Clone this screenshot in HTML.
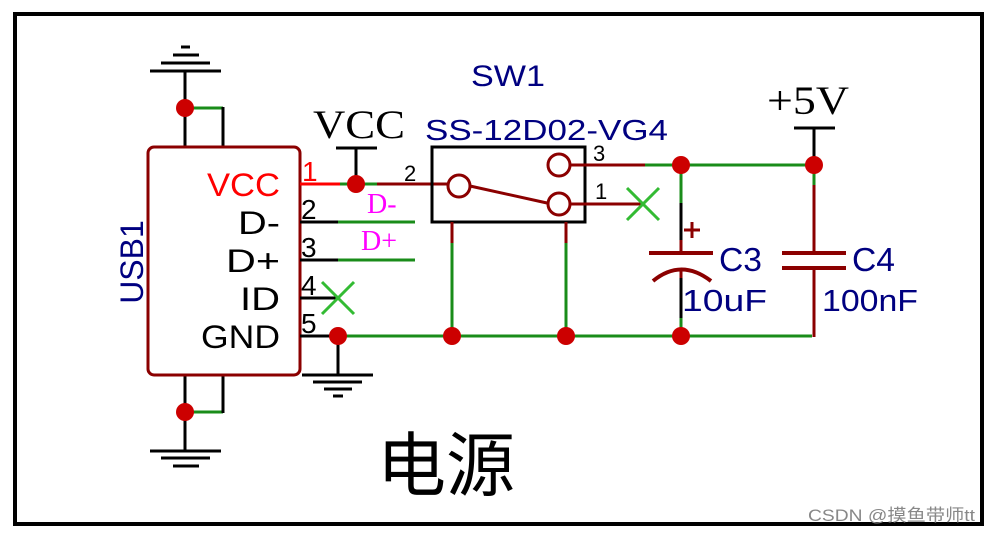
<!DOCTYPE html>
<html><head><meta charset="utf-8"><style>
html,body{margin:0;padding:0;background:#fff;}
svg{display:block}
</style></head><body>
<svg width="990" height="533" viewBox="0 0 990 533" xmlns="http://www.w3.org/2000/svg">
<rect width="990" height="533" fill="#fff"/>
<rect x="15" y="14" width="967" height="510" fill="none" stroke="#000" stroke-width="4"/>

<g stroke-linecap="butt" fill="none">
<line x1="150" y1="71" x2="221" y2="71" stroke="#000" stroke-width="3"/>
<line x1="161" y1="63" x2="210" y2="63" stroke="#000" stroke-width="3"/>
<line x1="173" y1="55" x2="199" y2="55" stroke="#000" stroke-width="3"/>
<line x1="181" y1="47" x2="190" y2="47" stroke="#000" stroke-width="3"/>
<line x1="185" y1="71" x2="185" y2="147" stroke="#000" stroke-width="3"/>
<line x1="185" y1="108" x2="223" y2="108" stroke="#1a8c1a" stroke-width="3"/>
<line x1="223" y1="107" x2="223" y2="147" stroke="#000" stroke-width="3"/>
<line x1="185" y1="375" x2="185" y2="451" stroke="#000" stroke-width="3"/>
<line x1="185" y1="412" x2="223" y2="412" stroke="#1a8c1a" stroke-width="3"/>
<line x1="223" y1="375" x2="223" y2="413" stroke="#000" stroke-width="3"/>
<line x1="150" y1="451" x2="221" y2="451" stroke="#000" stroke-width="3"/>
<line x1="161" y1="458" x2="210" y2="458" stroke="#000" stroke-width="3"/>
<line x1="173" y1="466" x2="199" y2="466" stroke="#000" stroke-width="3"/>

<rect x="148" y="147" width="152" height="228" rx="6" stroke="#8b0000" stroke-width="3"/>

<line x1="300" y1="184" x2="340" y2="184" stroke="#ff0000" stroke-width="3"/>
<line x1="340" y1="184" x2="377" y2="184" stroke="#1a8c1a" stroke-width="3"/>
<line x1="377" y1="184" x2="448" y2="184" stroke="#8b0000" stroke-width="3"/>
<line x1="356" y1="148" x2="356" y2="184" stroke="#000" stroke-width="3"/>
<line x1="336" y1="148" x2="377" y2="148" stroke="#000" stroke-width="3"/>

<line x1="300" y1="222" x2="338" y2="222" stroke="#000" stroke-width="3"/>
<line x1="338" y1="222" x2="415" y2="222" stroke="#1a8c1a" stroke-width="3"/>
<line x1="300" y1="260" x2="338" y2="260" stroke="#000" stroke-width="3"/>
<line x1="338" y1="260" x2="415" y2="260" stroke="#1a8c1a" stroke-width="3"/>
<line x1="300" y1="298" x2="338" y2="298" stroke="#000" stroke-width="3"/>
<line x1="322" y1="282" x2="354" y2="314" stroke="#33bb33" stroke-width="3"/>
<line x1="354" y1="282" x2="322" y2="314" stroke="#33bb33" stroke-width="3"/>
<line x1="300" y1="336" x2="338" y2="336" stroke="#000" stroke-width="3"/>
<line x1="338" y1="336" x2="812" y2="336" stroke="#1a8c1a" stroke-width="3"/>
<line x1="338" y1="336" x2="338" y2="375" stroke="#000" stroke-width="3"/>
<line x1="302" y1="375" x2="373" y2="375" stroke="#000" stroke-width="3"/>
<line x1="313" y1="382" x2="362" y2="382" stroke="#000" stroke-width="3"/>
<line x1="324" y1="389" x2="352" y2="389" stroke="#000" stroke-width="3"/>
<line x1="333" y1="396" x2="343" y2="396" stroke="#000" stroke-width="3"/>

<rect x="432" y="147" width="153" height="75" stroke="#000" stroke-width="3"/>
<circle cx="459" cy="186" r="11" stroke="#8b0000" stroke-width="3"/>
<circle cx="559" cy="165" r="11" stroke="#8b0000" stroke-width="3"/>
<circle cx="559" cy="204" r="11" stroke="#8b0000" stroke-width="3"/>
<line x1="470" y1="186" x2="547" y2="203" stroke="#8b0000" stroke-width="3"/>
<line x1="570" y1="165" x2="645" y2="165" stroke="#8b0000" stroke-width="3"/>
<line x1="645" y1="165" x2="814" y2="165" stroke="#1a8c1a" stroke-width="3"/>
<line x1="570" y1="204" x2="643" y2="204" stroke="#8b0000" stroke-width="3"/>
<line x1="627" y1="188" x2="659" y2="220" stroke="#33bb33" stroke-width="3"/>
<line x1="659" y1="188" x2="627" y2="220" stroke="#33bb33" stroke-width="3"/>
<line x1="452" y1="222" x2="452" y2="243" stroke="#8b0000" stroke-width="3"/>
<line x1="452" y1="243" x2="452" y2="336" stroke="#1a8c1a" stroke-width="3"/>
<line x1="566" y1="222" x2="566" y2="243" stroke="#8b0000" stroke-width="3"/>
<line x1="566" y1="243" x2="566" y2="336" stroke="#1a8c1a" stroke-width="3"/>

<line x1="681" y1="165" x2="681" y2="203" stroke="#1a8c1a" stroke-width="3"/>
<line x1="681" y1="203" x2="681" y2="240" stroke="#000" stroke-width="3"/>
<line x1="681" y1="240" x2="681" y2="253" stroke="#8b0000" stroke-width="3"/>
<line x1="649" y1="253" x2="713" y2="253" stroke="#8b0000" stroke-width="4"/>
<path d="M653 281 Q681 258 711 281" stroke="#8b0000" stroke-width="4"/>
<line x1="681" y1="268" x2="681" y2="278" stroke="#8b0000" stroke-width="3"/>
<line x1="681" y1="278" x2="681" y2="318" stroke="#000" stroke-width="3"/>
<line x1="681" y1="318" x2="681" y2="336" stroke="#1a8c1a" stroke-width="3"/>
<line x1="684" y1="230" x2="700" y2="230" stroke="#8b0000" stroke-width="3"/>
<line x1="692" y1="222" x2="692" y2="238" stroke="#8b0000" stroke-width="3"/>

<line x1="814" y1="165" x2="814" y2="185" stroke="#1a8c1a" stroke-width="3"/>
<line x1="814" y1="185" x2="814" y2="253" stroke="#8b0000" stroke-width="3"/>
<line x1="782" y1="253" x2="846" y2="253" stroke="#8b0000" stroke-width="4"/>
<line x1="782" y1="268" x2="846" y2="268" stroke="#8b0000" stroke-width="4"/>
<line x1="814" y1="268" x2="814" y2="337" stroke="#8b0000" stroke-width="3"/>
<line x1="814" y1="128" x2="814" y2="165" stroke="#000" stroke-width="3"/>
<line x1="794" y1="128" x2="835" y2="128" stroke="#000" stroke-width="3"/>
</g>

<g fill="#cc0000">
<circle cx="185" cy="108" r="9"/>
<circle cx="185" cy="412" r="9"/>
<circle cx="356" cy="184" r="9"/>
<circle cx="338" cy="336" r="9"/>
<circle cx="452" cy="336" r="9"/>
<circle cx="566" cy="336" r="9"/>
<circle cx="681" cy="336" r="9"/>
<circle cx="681" cy="165" r="9"/>
<circle cx="814" cy="165" r="9"/>
</g>

<g font-family="Liberation Sans, sans-serif">
<text x="207" y="196" font-size="32" fill="#ff0000" textLength="73" lengthAdjust="spacingAndGlyphs">VCC</text>
<text x="238" y="234" font-size="32" fill="#000" textLength="42" lengthAdjust="spacingAndGlyphs">D-</text>
<text x="226" y="272" font-size="32" fill="#000" textLength="54" lengthAdjust="spacingAndGlyphs">D+</text>
<text x="240" y="310" font-size="32" fill="#000" textLength="40" lengthAdjust="spacingAndGlyphs">ID</text>
<text x="201" y="348" font-size="32" fill="#000" textLength="79" lengthAdjust="spacingAndGlyphs">GND</text>
<text x="302" y="181" font-size="28" fill="#ff0000">1</text>
<text x="301" y="219" font-size="28" fill="#000">2</text>
<text x="301" y="257" font-size="28" fill="#000">3</text>
<text x="301" y="295" font-size="28" fill="#000">4</text>
<text x="301" y="333" font-size="28" fill="#000">5</text>
<text transform="translate(143,262) rotate(-90)" font-size="32" fill="#000080" text-anchor="middle">USB1</text>
<text x="404" y="181" font-size="22" fill="#000">2</text>
<text x="593" y="161" font-size="22" fill="#000">3</text>
<text x="595" y="199" font-size="22" fill="#000">1</text>
<text x="471" y="86" font-size="30" fill="#000080" textLength="74" lengthAdjust="spacingAndGlyphs">SW1</text>
<text x="425" y="140" font-size="29" fill="#000080" textLength="243" lengthAdjust="spacingAndGlyphs">SS-12D02-VG4</text>
<text x="719" y="271" font-size="33" fill="#000080" textLength="43" lengthAdjust="spacingAndGlyphs">C3</text>
<text x="682" y="311" font-size="31" fill="#000080" textLength="85" lengthAdjust="spacingAndGlyphs">10uF</text>
<text x="852" y="271" font-size="33" fill="#000080" textLength="43" lengthAdjust="spacingAndGlyphs">C4</text>
<text x="822" y="311" font-size="31" fill="#000080" textLength="96" lengthAdjust="spacingAndGlyphs">100nF</text>
</g>
<g font-family="Liberation Serif, serif">
<text x="313" y="138" font-size="40" fill="#000" textLength="92" lengthAdjust="spacingAndGlyphs">VCC</text>
<text x="367" y="213" font-size="28" fill="#ff00ff">D-</text>
<text x="361" y="250" font-size="28" fill="#ff00ff">D+</text>
<text x="767" y="114" font-size="40" fill="#000" textLength="82" lengthAdjust="spacingAndGlyphs">+5V</text>
</g>
<text x="377" y="490" font-size="70" fill="#000" textLength="138" lengthAdjust="spacingAndGlyphs" font-family="Liberation Sans, Noto Sans CJK SC, sans-serif">电源</text>
<text x="808" y="521" font-size="17" fill="#888" textLength="167" lengthAdjust="spacingAndGlyphs" font-family="Liberation Sans, Noto Sans CJK SC, sans-serif">CSDN @摸鱼带师tt</text>
</svg>
</body></html>
